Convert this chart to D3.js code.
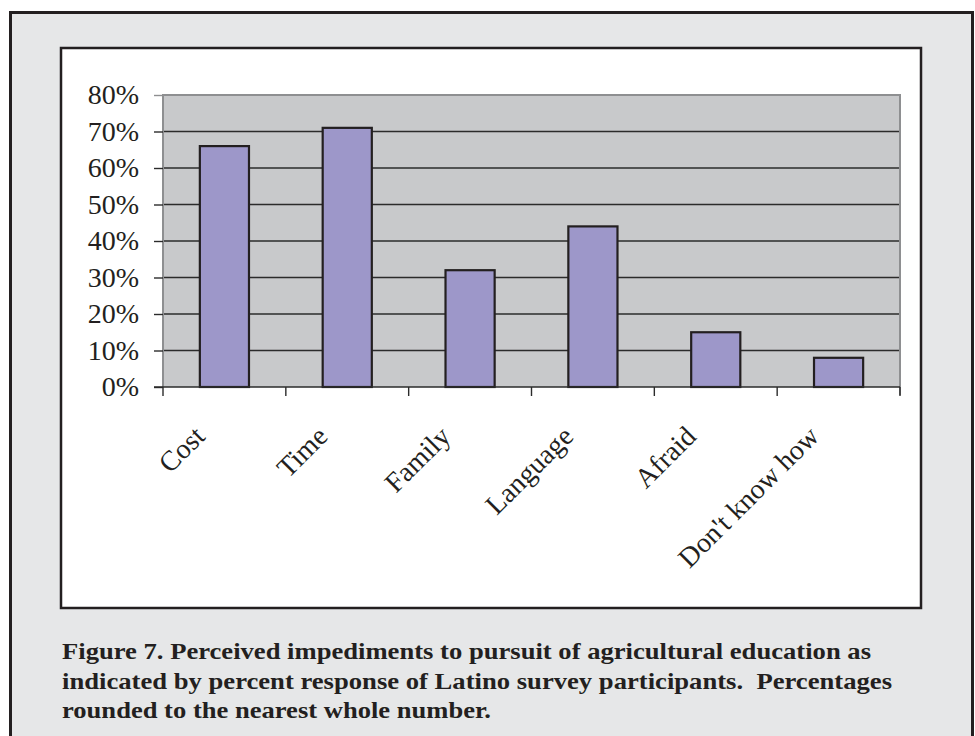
<!DOCTYPE html>
<html>
<head>
<meta charset="utf-8">
<script src="https://cdn.jsdelivr.net/npm/d3@7"></script>
<style>
  html, body { margin: 0; padding: 0; background: #ffffff; }
  svg { display: block; }
</style>
</head>
<body>
<script>
// Impediments and the share of respondents naming each one
const categories = ["Cost", "Time", "Family", "Language", "Afraid", "Don't know how"];
const percents = [0.66, 0.71, 0.32, 0.44, 0.15, 0.08];
const yTicks = [0, 0.1, 0.2, 0.3, 0.4, 0.5, 0.6, 0.7, 0.8];
const captionLines = [
  "Figure 7. Perceived impediments to pursuit of agricultural education as",
  "indicated by percent response of Latino survey participants.  Percentages",
  "rounded to the nearest whole number."
];
const captionWidths = [809, 830, 429];

const W = 975, H = 736;
const ink = "#231f20";
const serif = "'Liberation Serif', 'Times New Roman', Times, serif";

const svg = d3.select("body").append("svg")
  .attr("width", W).attr("height", H);

// Grey panel holding the figure and its caption
svg.append("rect")
  .attr("x", 10.5).attr("y", 12.5).attr("width", 962).attr("height", 740)
  .attr("fill", "#e6e7e8").attr("stroke", ink).attr("stroke-width", 3);

// White chart frame
svg.append("rect")
  .attr("x", 61).attr("y", 48).attr("width", 860).attr("height", 560)
  .attr("fill", "#ffffff").attr("stroke", ink).attr("stroke-width", 2.5);

// Plot area
const plot = { left: 163, right: 900, top: 95, bottom: 387 };

const y = d3.scaleLinear().domain([0, 0.8]).range([plot.bottom, plot.top]);
const xBand = d3.scaleBand().domain(categories)
  .range([plot.left, plot.right]).paddingInner(0.6).paddingOuter(0.3);
const xCell = d3.scaleBand().domain(categories)
  .range([plot.left, plot.right]).padding(0);

const g = svg.append("g");

g.append("rect")
  .attr("x", plot.left).attr("y", plot.top)
  .attr("width", plot.right - plot.left).attr("height", plot.bottom - plot.top)
  .attr("fill", "#c8c9cb");

// Horizontal gridlines
g.append("g").selectAll("line")
  .data(yTicks.filter(d => d > 0 && d < 0.8))
  .join("line")
  .attr("x1", plot.left).attr("x2", plot.right)
  .attr("y1", d => y(d)).attr("y2", d => y(d))
  .attr("stroke", "#2b2b2b").attr("stroke-width", 1.6);

// Plot border (top, right, left) in grey
g.append("path")
  .attr("d", `M${plot.left},${plot.bottom} V${plot.top} H${plot.right} V${plot.bottom + 8}`)
  .attr("fill", "none").attr("stroke", "#8e8f91").attr("stroke-width", 2);

// Bars
g.append("g").selectAll("rect")
  .data(categories)
  .join("rect")
  .attr("x", d => xBand(d))
  .attr("y", (d, i) => y(percents[i]))
  .attr("width", xBand.bandwidth())
  .attr("height", (d, i) => y(0) - y(percents[i]))
  .attr("fill", "#9d97c9")
  .attr("stroke", ink).attr("stroke-width", 2.2);

// Y axis
const yAxis = d3.axisLeft(y)
  .tickValues(yTicks)
  .tickFormat(d3.format(".0%"))
  .tickSize(9).tickPadding(15);

const ya = svg.append("g")
  .attr("transform", `translate(${plot.left},0)`)
  .call(yAxis);
ya.select(".domain").remove();
ya.selectAll(".tick line")
  .attr("stroke", d => d === 0.8 ? "#8e8f91" : "#2b2b2b")
  .attr("stroke-width", 1.4);
ya.selectAll(".tick text")
  .attr("font-family", serif).attr("font-size", 28).attr("fill", ink);

// X axis baseline and category boundary ticks
svg.append("line")
  .attr("x1", plot.left - 9).attr("x2", plot.right)
  .attr("y1", y(0)).attr("y2", y(0))
  .attr("stroke", "#2b2b2b").attr("stroke-width", 1.6);

const boundaries = categories.map(c => xCell(c)).concat([plot.right]);
svg.append("g").selectAll("line")
  .data(boundaries)
  .join("line")
  .attr("x1", d => d).attr("x2", d => d)
  .attr("y1", y(0)).attr("y2", y(0) + 9)
  .attr("stroke", "#2b2b2b").attr("stroke-width", 1.4);

// Rotated category labels
svg.append("g").selectAll("text")
  .data(categories)
  .join("text")
  .attr("transform", d => {
    const cx = xCell(d) + xCell.bandwidth() / 2;
    return `translate(${cx - 18},${y(0) + 51}) rotate(-45)`;
  })
  .attr("text-anchor", "end")
  .attr("font-family", serif).attr("font-size", 28).attr("fill", ink)
  .text(d => d);

// Caption
svg.append("g").selectAll("text")
  .data(captionLines)
  .join("text")
  .attr("x", 62)
  .attr("y", (d, i) => 659 + i * 29.5)
  .attr("font-family", serif).attr("font-weight", "bold")
  .attr("font-size", 24).attr("fill", ink)
  .style("white-space", "pre")
  .attr("textLength", (d, i) => captionWidths[i])
  .attr("lengthAdjust", "spacingAndGlyphs")
  .text(d => d);
</script>
</body>
</html>
